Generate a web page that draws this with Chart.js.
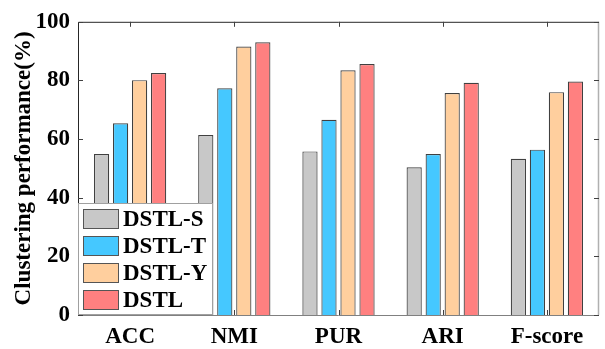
<!DOCTYPE html>
<html>
<head>
<meta charset="utf-8">
<script src="https://cdn.jsdelivr.net/npm/chart.js@4"></script>
<style>
  html, body { margin: 0; padding: 0; background: #fff; }
  #wrap { width: 605px; height: 349px; }
</style>
</head>
<body>
<div id="wrap"><canvas id="chart" width="605" height="349"></canvas></div>
<script>
const categories = ["ACC", "NMI", "PUR", "ARI", "F-score"];
const seriesNames = ["DSTL-S", "DSTL-T", "DSTL-Y", "DSTL"];
const dstlS = [54.9, 61.4, 55.8, 50.4, 53.3];
const dstlT = [65.4, 77.3, 66.6, 54.9, 56.4];
const dstlY = [80.1, 91.6, 83.5, 75.7, 76.0];
const dstl = [82.5, 93.0, 85.6, 79.2, 79.6];
const yTicks = [0, 20, 40, 60, 80, 100];

const colors = ["#c8c8c8", "#45c8ff", "#ffcf9e", "#ff8080"];
const FONT = "'Liberation Serif', 'Times New Roman', serif";

// MATLAB style box with inward ticks
const boxPlugin = {
  id: "box",
  afterDatasetsDraw(chart) {
    const { ctx, chartArea: a, scales } = chart;
    const L = 5;
    ctx.save();
    ctx.lineWidth = 1;
    ctx.strokeStyle = "#262626";
    ctx.beginPath();
    ctx.moveTo(a.left + 0.5, a.bottom);
    ctx.lineTo(a.left + 0.5, a.top + 0.5);
    ctx.lineTo(a.right, a.top + 0.5);
    ctx.stroke();
    ctx.strokeStyle = "#808080";
    ctx.beginPath();
    ctx.moveTo(a.left, a.bottom + 0.5);
    ctx.lineTo(a.right, a.bottom + 0.5);
    ctx.stroke();
    ctx.strokeStyle = "#b0b0b0";
    ctx.lineWidth = 1.5;
    ctx.beginPath();
    ctx.moveTo(a.right - 0.5, a.top);
    ctx.lineTo(a.right - 0.5, a.bottom);
    ctx.stroke();
    ctx.lineWidth = 1;
    ctx.strokeStyle = "#404040";
    ctx.beginPath();
    yTicks.forEach((v) => {
      const y = Math.round(scales.y.getPixelForValue(v)) + 0.5;
      ctx.moveTo(a.left, y); ctx.lineTo(a.left + L, y);
      ctx.moveTo(a.right, y); ctx.lineTo(a.right - L, y);
    });
    categories.forEach((c, i) => {
      const x = Math.round(scales.x.getPixelForTick(i)) + 0.5;
      ctx.moveTo(x, a.top); ctx.lineTo(x, a.top + L);
      ctx.moveTo(x, a.bottom); ctx.lineTo(x, a.bottom - L);
    });
    ctx.stroke();
    ctx.restore();
  },
  afterDraw(chart) {
    // legend inside the axes, bottom-left
    const { ctx, chartArea: a } = chart;
    const bx = a.left, by = 203, bw = 135, bh = a.bottom - by;
    ctx.save();
    ctx.fillStyle = "#fff";
    ctx.fillRect(bx, by, bw, bh);
    ctx.strokeStyle = "#a0a0a0";
    ctx.lineWidth = 1;
    ctx.strokeRect(bx + 0.5, by + 0.5, bw - 1, bh - 1);
    ctx.font = "bold 23px " + FONT;
    ctx.textBaseline = "middle";
    chart.data.datasets.forEach((ds, i) => {
      const top = by + 6 + i * 27;
      ctx.fillStyle = ds.backgroundColor;
      ctx.fillRect(bx + 5, top, 36, 20);
      ctx.strokeStyle = "#555";
      ctx.strokeRect(bx + 5.5, top + 0.5, 35, 19);
      ctx.fillStyle = "#000";
      ctx.fillText(ds.label, bx + 45, top + 11);
    });
    ctx.restore();
  }
};

new Chart(document.getElementById("chart"), {
  type: "bar",
  data: {
    labels: categories,
    datasets: [dstlS, dstlT, dstlY, dstl].map((d, i) => ({
      label: seriesNames[i],
      data: d,
      backgroundColor: colors[i],
      borderColor: "#404040",
      borderWidth: 1.2,
      categoryPercentage: 0.73,
      barPercentage: 0.8,
    })),
  },
  options: {
    responsive: false,
    animation: false,
    layout: { padding: { top: 13, right: 6, left: 0, bottom: 0 } },
    plugins: { legend: { display: false }, tooltip: { enabled: false } },
    scales: {
      x: {
        grid: { display: false, drawTicks: false },
        border: { display: false },
        ticks: { color: "#000", padding: 8, font: { family: FONT, size: 23, weight: "bold" } },
        afterFit: (s) => { s.height = 34; },
      },
      y: {
        min: 0,
        max: 100,
        afterBuildTicks: (s) => { s.ticks = yTicks.map((v) => ({ value: v })); },
        grid: { display: false, drawTicks: false },
        border: { display: false },
        ticks: { color: "#000", padding: 8, font: { family: FONT, size: 23, weight: "bold" } },
        title: {
          display: true,
          text: "Clustering performance(%)",
          color: "#000",
          padding: { top: 10, bottom: 0 },
          font: { family: FONT, size: 23, weight: "bold" },
        },
        afterFit: (s) => { s.width = 78; },
      },
    },
  },
  plugins: [boxPlugin],
});
</script>
</body>
</html>
